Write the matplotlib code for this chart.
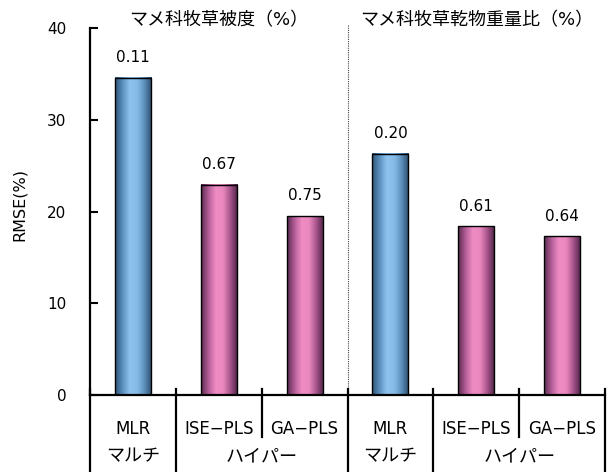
import numpy as np
import matplotlib
matplotlib.use("Agg")
import matplotlib.pyplot as plt
from matplotlib.patches import Rectangle
from matplotlib.colors import LinearSegmentedColormap

# latin text in DejaVu, Japanese falls through to Noto CJK
plt.rcParams['font.family'] = ['DejaVu Sans', 'Noto Sans CJK JP']

methods = ['MLR', 'ISE−PLS', 'GA−PLS', 'MLR', 'ISE−PLS', 'GA−PLS']
rmse = [34.6, 22.9, 19.5, 26.3, 18.4, 17.3]
r2_labels = ['0.11', '0.67', '0.75', '0.20', '0.61', '0.64']
sensor_groups = [('マルチ', 0, 0), ('ハイパー', 1, 2), ('マルチ', 3, 3), ('ハイパー', 4, 5)]
panel_titles = ['マメ科牧草被度（%）', 'マメ科牧草乾物重量比（%）']

blue_cmap = LinearSegmentedColormap.from_list(
    'cyl_blue', ['#2f5778', '#5a8fbf', '#8fc3ee', '#86bbe8', '#5e90bd', '#2d4e6c'])
pink_cmap = LinearSegmentedColormap.from_list(
    'cyl_pink', ['#5a2c50', '#b45d98', '#f08cc4', '#ea88be', '#a8548c', '#4e2446'])

fig = plt.figure(figsize=(6.10, 4.72), dpi=100)
ax = fig.add_axes([90 / 610, 77 / 472, 515 / 610, 367 / 472])

bar_w = 0.42
grad = np.linspace(0, 1, 64).reshape(1, -1)
for i, (m, v, lab) in enumerate(zip(methods, rmse, r2_labels)):
    cmap = blue_cmap if m == 'MLR' else pink_cmap
    x0 = i - bar_w / 2
    ax.imshow(grad, cmap=cmap, aspect='auto', extent=[x0, x0 + bar_w, 0, v],
              interpolation='bicubic', zorder=2)
    ax.add_patch(Rectangle((x0, 0), bar_w, v, fill=False, edgecolor='black',
                           linewidth=1.0, zorder=3))
    ax.annotate(lab, (i, v), xytext=(0, 14.5), textcoords='offset points',
                ha='center', va='center', fontsize=11)

ax.set_xlim(-0.5, 5.5)
ax.set_ylim(0, 40)
ax.set_yticks([0, 10, 20, 30, 40])
ax.set_xticks([])
ax.tick_params(axis='y', direction='in', length=6, width=1.5, labelsize=11, pad=17)
ax.set_ylabel('RMSE(%)', fontsize=11.5)
ax.yaxis.set_label_coords(-0.123, 0.52)
for side in ['top', 'right']:
    ax.spines[side].set_visible(False)
ax.spines['left'].set_linewidth(1.6)
ax.spines['bottom'].set_linewidth(1.6)

# dotted divider between the two panels
ax.axvline(2.5, ymin=0, ymax=1.01, color='#444444', linestyle=(0, (1, 1)),
           linewidth=0.8, clip_on=False, zorder=1)

trans = ax.get_xaxis_transform()

# panel titles
ax.text(1.0, 1.022, panel_titles[0], transform=trans, ha='center', va='center',
        fontsize=13)
ax.text(4.0, 1.022, panel_titles[1], transform=trans, ha='center', va='center',
        fontsize=13)

# category table below the axis
bottom = -77 / 367
mid = -42 / 367
for xb in [-0.5, 0.5, 2.5, 3.5, 5.5]:
    ax.plot([xb, xb], [0.017, bottom], color='black', lw=1.6,
            transform=trans, clip_on=False)
for xb in [1.5, 4.5]:
    ax.plot([xb, xb], [0.017, mid], color='black', lw=1.6,
            transform=trans, clip_on=False)

for i, m in enumerate(methods):
    ax.text(i, -34 / 367, m, transform=trans, ha='center', va='center', fontsize=12)
for name, a, b in sensor_groups:
    ax.text((a + b) / 2, -61 / 367, name, transform=trans, ha='center',
            va='center', fontsize=13)

fig.savefig('out.png', dpi=100)
